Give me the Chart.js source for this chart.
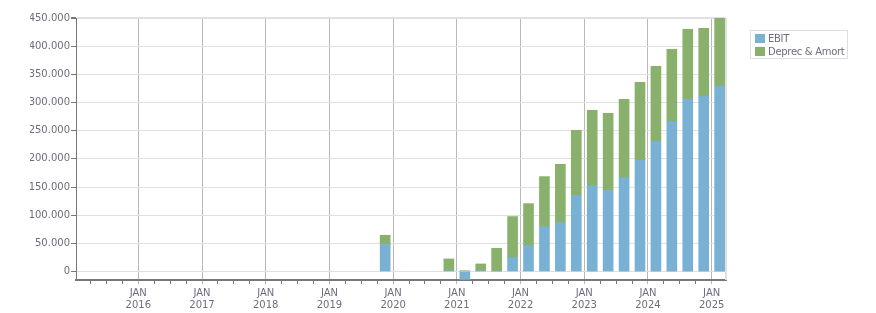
<!DOCTYPE html>
<html>
<head>
<meta charset="utf-8">
<script src="https://cdn.jsdelivr.net/npm/chart.js@4.4.0/dist/chart.umd.min.js"></script>
<style>
  html, body { margin: 0; padding: 0; background: #fff; }
  #wrap { position: relative; width: 876px; height: 313px; }
  #legend { position: absolute; left: 750px; top: 30px; width: 96px; height: 27px;
            border: 1px solid #dedede; font: 10px "DejaVu Sans", sans-serif; color: #6d6d7d; }
  .item { position: absolute; left: 4px; height: 10px; line-height: 10px; white-space: nowrap; letter-spacing: -0.3px; }
  .sw { display: inline-block; width: 10px; height: 9px; vertical-align: top; margin-right: 3px; }
</style>
</head>
<body>
<div id="wrap">
  <canvas id="ebitChart" width="876" height="313"></canvas>
  <div id="legend"></div>
</div>
<script>
// quarters shown (bar sits in the middle of the quarter)
const quarters = ['2019Q4', '2020Q4', '2021Q1', '2021Q2', '2021Q3', '2021Q4',
                  '2022Q1', '2022Q2', '2022Q3', '2022Q4', '2023Q1', '2023Q2',
                  '2023Q3', '2023Q4', '2024Q1', '2024Q2', '2024Q3', '2024Q4', '2025Q1'];
const ebit   = [47900, 1500, -14000, 1500, 1000, 24800,
                46100, 79800, 86900, 134800, 152500, 144200,
                166700, 197500, 231200, 266700, 305700, 311600, 329300];
const deprec = [16500, 20900, 1500, 12000, 40300, 72800,
                74500, 88700, 103500, 115900, 133700, 136700,
                139000, 138400, 133100, 127700, 124200, 120100, 120100];
const seriesNames = ['EBIT', 'Deprec & Amort'];
const seriesColors = ['#78b1d3', '#8ab16c'];
const monthLabel = 'JAN';
const yearLabels = [2016, 2017, 2018, 2019, 2020, 2021, 2022, 2023, 2024, 2025];
const yTickValues = [0, 50000, 100000, 150000, 200000, 250000, 300000, 350000, 400000, 450000];

const textColor = '#6d6d7d';
const font = { family: '"DejaVu Sans", sans-serif', size: 10 };

// 2019Q4 -> 2019.875
const toX = q => Number(q.slice(0, 4)) + (Number(q.slice(5)) - 1) * 0.25 + 0.125;
const isMajor = v => Math.abs(v - Math.round(v)) < 1e-6 && yearLabels.includes(Math.round(v));
const fmt = v => String(Math.round(v)).replace(/\B(?=(\d{3})+(?!\d))/g, '.');

const frame = {
    id: 'frame',
    beforeDatasetsDraw(chart) {
        const { ctx, chartArea: a } = chart;
        ctx.save();
        ctx.strokeStyle = '#e0e0e0';
        ctx.lineWidth = 2;
        ctx.beginPath();
        ctx.moveTo(a.right, a.top);
        ctx.lineTo(a.right, a.bottom);
        ctx.stroke();
        ctx.restore();
    }
};

new Chart(document.getElementById('ebitChart'), {
    type: 'bar',
    data: {
        datasets: [{
            label: seriesNames[0],
            data: quarters.map((q, i) => ({ x: toX(q), y: ebit[i] })),
            backgroundColor: seriesColors[0],
            barThickness: 10
        }, {
            label: seriesNames[1],
            data: quarters.map((q, i) => ({ x: toX(q), y: deprec[i] })),
            backgroundColor: seriesColors[1],
            barThickness: 10
        }]
    },
    options: {
        responsive: false,
        animation: false,
        layout: { padding: { left: 30, right: 150, top: 18, bottom: 0 } },
        plugins: { legend: { display: false }, tooltip: { enabled: false } },
        scales: {
            x: {
                type: 'linear',
                stacked: true,
                offset: false,
                min: 2015.022,
                max: 2025.225,
                afterFit(s) { s.height = 33; },
                border: { color: '#777', width: 2 },
                grid: {
                    offset: false,
                    color: ctx => (ctx.tick && isMajor(ctx.tick.value)) ? '#b8b8b8' : 'rgba(0,0,0,0)',
                    tickColor: ctx => (ctx.tick && isMajor(ctx.tick.value)) ? '#b8b8b8' : '#777',
                    tickLength: 4,
                    lineWidth: 1
                },
                ticks: {
                    stepSize: 0.25,
                    autoSkip: false,
                    maxRotation: 0,
                    includeBounds: false,
                    padding: 3,
                    color: textColor,
                    font: font,
                    callback: v => isMajor(v) ? [monthLabel, String(Math.round(v))] : ''
                }
            },
            y: {
                stacked: true,
                min: -15000,
                max: 450000,
                afterFit(s) { s.width = 46; },
                afterBuildTicks(s) { s.ticks = yTickValues.map(v => ({ value: v })); },
                border: { color: '#777', width: 1 },
                grid: {
                    color: '#e0e0e0',
                    tickColor: '#777',
                    tickLength: 5,
                    lineWidth: ctx => (ctx.tick && ctx.tick.value === 450000) ? 2 : 1
                },
                ticks: {
                    padding: 1,
                    color: textColor,
                    font: font,
                    callback: v => fmt(v)
                }
            }
        }
    },
    plugins: [frame]
});

// legend
const legend = document.getElementById('legend');
seriesNames.forEach((name, i) => {
    const item = document.createElement('div');
    item.className = 'item';
    item.style.top = (3 + i * 13) + 'px';
    item.innerHTML = '<span class="sw" style="background:' + seriesColors[i] + '"></span>' + name.replace('&', '&amp;');
    legend.appendChild(item);
});
</script>
</body>
</html>
